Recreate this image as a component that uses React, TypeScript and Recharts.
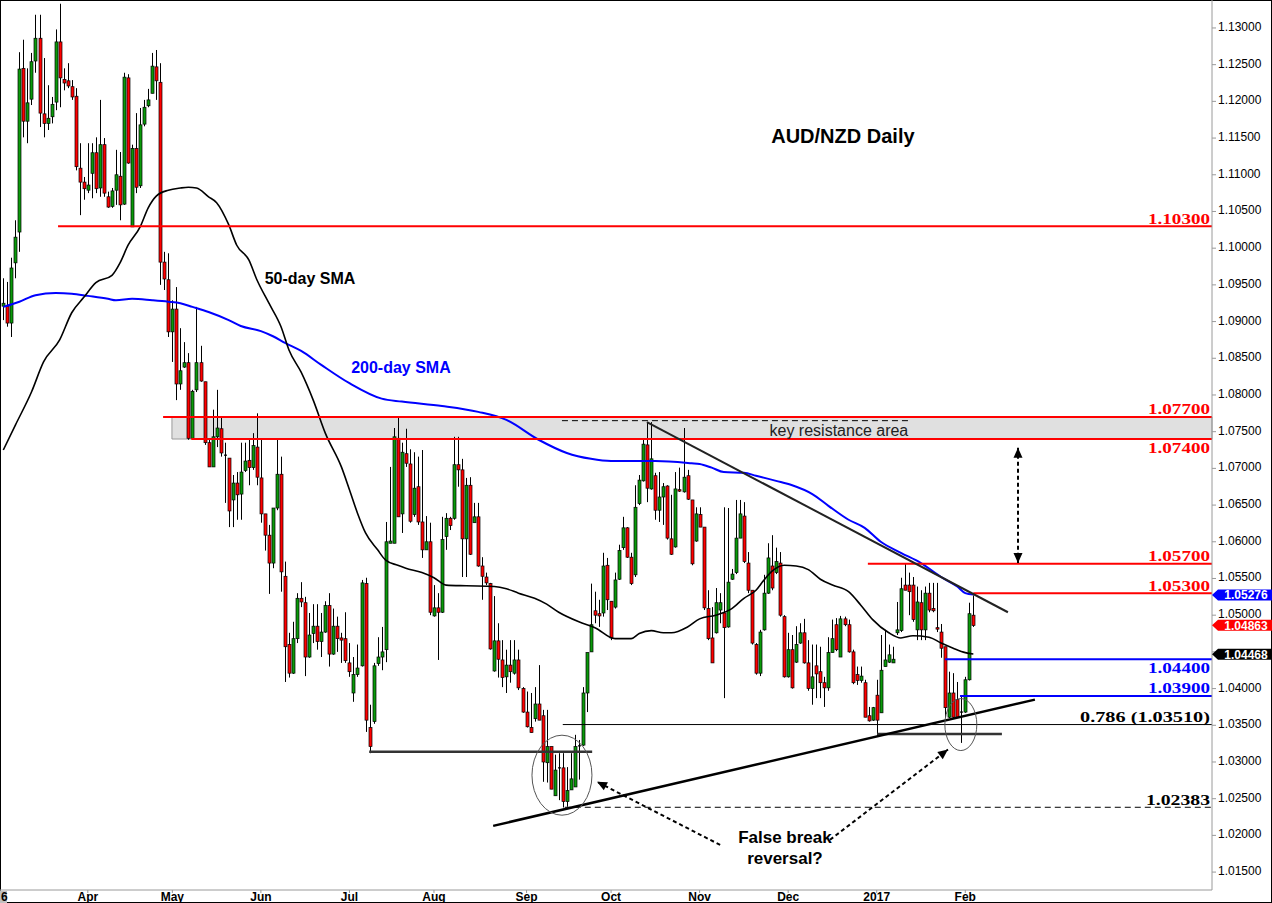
import React from "react";
import {
  ComposedChart,
  Bar,
  Line,
  XAxis,
  YAxis,
  ReferenceLine,
  ReferenceArea,
  ReferenceDot,
} from "recharts";

// AUD/NZD daily candles [open, high, low, close], early Mar 2016 -> early Feb 2017
const ohlc: [number, number, number, number][] = [
  [1.0921, 1.0959, 1.0902, 1.0925], [1.0921, 1.0954, 1.0893, 1.0898], [1.0898, 1.0987, 1.0879, 1.0973],
  [1.0980, 1.1038, 1.0959, 1.1015], [1.1022, 1.1267, 1.0995, 1.1244], [1.1245, 1.1284, 1.1151, 1.1173],
  [1.1173, 1.1245, 1.1143, 1.1198], [1.1203, 1.1266, 1.1195, 1.1254], [1.1255, 1.1318, 1.1239, 1.1286],
  [1.1286, 1.1318, 1.1165, 1.1184], [1.1183, 1.1259, 1.1151, 1.1170], [1.1170, 1.1222, 1.1161, 1.1177],
  [1.1179, 1.1206, 1.1170, 1.1196], [1.1199, 1.1298, 1.1188, 1.1281], [1.1281, 1.1333, 1.1192, 1.1232],
  [1.1230, 1.1245, 1.1215, 1.1225], [1.1228, 1.1252, 1.1218, 1.1221], [1.1220, 1.1229, 1.1202, 1.1206],
  [1.1207, 1.1218, 1.1106, 1.1111], [1.1109, 1.1143, 1.1045, 1.1090], [1.1090, 1.1097, 1.1066, 1.1081],
  [1.1079, 1.1143, 1.1075, 1.1086], [1.1102, 1.1143, 1.1068, 1.1130], [1.1130, 1.1151, 1.1075, 1.1081],
  [1.1082, 1.1202, 1.1070, 1.1141], [1.1141, 1.1150, 1.1070, 1.1075], [1.1070, 1.1077, 1.1055, 1.1056],
  [1.1057, 1.1082, 1.1055, 1.1078], [1.1079, 1.1134, 1.1059, 1.1100], [1.1098, 1.1131, 1.1038, 1.1059],
  [1.1060, 1.1239, 1.1059, 1.1233], [1.1232, 1.1237, 1.1115, 1.1116], [1.1029, 1.1141, 1.1029, 1.1136],
  [1.1136, 1.1184, 1.1075, 1.1083], [1.1085, 1.1191, 1.1082, 1.1168], [1.1169, 1.1202, 1.1166, 1.1192],
  [1.1194, 1.1217, 1.1192, 1.1202], [1.1211, 1.1266, 1.1211, 1.1248], [1.1247, 1.1270, 1.1202, 1.1228],
  [1.1226, 1.1252, 1.0950, 1.0981], [1.0981, 1.0995, 1.0943, 1.0958], [1.0957, 1.0993, 1.0879, 1.0886],
  [1.0886, 1.0929, 1.0845, 1.0917], [1.0917, 1.0947, 1.0793, 1.0815], [1.0815, 1.0891, 1.0807, 1.0833],
  [1.0838, 1.0872, 1.0837, 1.0844], [1.0844, 1.0857, 1.0739, 1.0741], [1.0741, 1.0807, 1.0741, 1.0805],
  [1.0807, 1.0920, 1.0804, 1.0844], [1.0844, 1.0867, 1.0818, 1.0819], [1.0818, 1.0818, 1.0732, 1.0735],
  [1.0735, 1.0741, 1.0702, 1.0702], [1.0702, 1.0780, 1.0702, 1.0743], [1.0743, 1.0807, 1.0729, 1.0755],
  [1.0754, 1.0770, 1.0716, 1.0721], [1.0718, 1.0735, 1.0653, 1.0717], [1.0714, 1.0714, 1.0620, 1.0642],
  [1.0657, 1.0691, 1.0620, 1.0680], [1.0680, 1.0695, 1.0630, 1.0664], [1.0665, 1.0735, 1.0630, 1.0695],
  [1.0697, 1.0735, 1.0695, 1.0710], [1.0711, 1.0739, 1.0677, 1.0701], [1.0701, 1.0748, 1.0698, 1.0731],
  [1.0729, 1.0775, 1.0677, 1.0688], [1.0687, 1.0739, 1.0626, 1.0638], [1.0638, 1.0638, 1.0588, 1.0609],
  [1.0609, 1.0623, 1.0529, 1.0571], [1.0571, 1.0646, 1.0564, 1.0646], [1.0646, 1.0739, 1.0643, 1.0692],
  [1.0692, 1.0716, 1.0532, 1.0559], [1.0553, 1.0573, 1.0409, 1.0457], [1.0460, 1.0476, 1.0415, 1.0421],
  [1.0421, 1.0491, 1.0420, 1.0468], [1.0468, 1.0530, 1.0462, 1.0523], [1.0523, 1.0545, 1.0511, 1.0518],
  [1.0517, 1.0525, 1.0417, 1.0443], [1.0443, 1.0503, 1.0442, 1.0473], [1.0475, 1.0515, 1.0462, 1.0485],
  [1.0485, 1.0515, 1.0453, 1.0464], [1.0464, 1.0503, 1.0443, 1.0477], [1.0477, 1.0519, 1.0476, 1.0513],
  [1.0513, 1.0530, 1.0430, 1.0447], [1.0447, 1.0509, 1.0446, 1.0485], [1.0485, 1.0498, 1.0450, 1.0468],
  [1.0469, 1.0476, 1.0435, 1.0466], [1.0468, 1.0504, 1.0435, 1.0438], [1.0435, 1.0462, 1.0416, 1.0423],
  [1.0394, 1.0443, 1.0382, 1.0419], [1.0419, 1.0460, 1.0416, 1.0428], [1.0431, 1.0548, 1.0430, 1.0544],
  [1.0543, 1.0551, 1.0341, 1.0357], [1.0347, 1.0378, 1.0312, 1.0321], [1.0355, 1.0435, 1.0352, 1.0431],
  [1.0434, 1.0470, 1.0431, 1.0443], [1.0443, 1.0484, 1.0425, 1.0450], [1.0453, 1.0627, 1.0436, 1.0600],
  [1.0598, 1.0702, 1.0598, 1.0601], [1.0598, 1.0755, 1.0598, 1.0743], [1.0741, 1.0771, 1.0634, 1.0634],
  [1.0638, 1.0735, 1.0612, 1.0722], [1.0720, 1.0754, 1.0702, 1.0707], [1.0706, 1.0726, 1.0626, 1.0628],
  [1.0637, 1.0722, 1.0634, 1.0673], [1.0675, 1.0716, 1.0623, 1.0627], [1.0627, 1.0725, 1.0578, 1.0589],
  [1.0589, 1.0635, 1.0589, 1.0600], [1.0600, 1.0626, 1.0500, 1.0504], [1.0499, 1.0541, 1.0498, 1.0510],
  [1.0510, 1.0530, 1.0439, 1.0504], [1.0504, 1.0634, 1.0503, 1.0603], [1.0607, 1.0639, 1.0589, 1.0632],
  [1.0632, 1.0634, 1.0616, 1.0622], [1.0632, 1.0743, 1.0630, 1.0705], [1.0705, 1.0743, 1.0675, 1.0698],
  [1.0698, 1.0713, 1.0552, 1.0604], [1.0604, 1.0687, 1.0552, 1.0677], [1.0677, 1.0688, 1.0582, 1.0583],
  [1.0626, 1.0653, 1.0626, 1.0634], [1.0634, 1.0653, 1.0566, 1.0567], [1.0567, 1.0579, 1.0521, 1.0553],
  [1.0552, 1.0558, 1.0541, 1.0544], [1.0543, 1.0544, 1.0453, 1.0454], [1.0424, 1.0526, 1.0423, 1.0465],
  [1.0465, 1.0489, 1.0415, 1.0440], [1.0439, 1.0466, 1.0402, 1.0415], [1.0416, 1.0453, 1.0394, 1.0432],
  [1.0432, 1.0466, 1.0408, 1.0423], [1.0421, 1.0466, 1.0419, 1.0439], [1.0439, 1.0453, 1.0398, 1.0401],
  [1.0400, 1.0402, 1.0367, 1.0368], [1.0368, 1.0396, 1.0347, 1.0348], [1.0347, 1.0394, 1.0340, 1.0340],
  [1.0359, 1.0402, 1.0355, 1.0379], [1.0379, 1.0432, 1.0357, 1.0357], [1.0363, 1.0371, 1.0273, 1.0300],
  [1.0299, 1.0371, 1.0272, 1.0321], [1.0321, 1.0321, 1.0263, 1.0263], [1.0254, 1.0310, 1.0254, 1.0289],
  [1.0292, 1.0312, 1.0248, 1.0291], [1.0292, 1.0312, 1.0238, 1.0246], [1.0246, 1.0293, 1.0239, 1.0261],
  [1.0262, 1.0312, 1.0262, 1.0277], [1.0266, 1.0337, 1.0266, 1.0321], [1.0321, 1.0330, 1.0276, 1.0322],
  [1.0323, 1.0402, 1.0322, 1.0394], [1.0394, 1.0449, 1.0368, 1.0449], [1.0450, 1.0543, 1.0450, 1.0487],
  [1.0506, 1.0532, 1.0489, 1.0500], [1.0502, 1.0521, 1.0484, 1.0499], [1.0503, 1.0585, 1.0498, 1.0567],
  [1.0568, 1.0578, 1.0507, 1.0521], [1.0519, 1.0519, 1.0466, 1.0469], [1.0511, 1.0558, 1.0509, 1.0548],
  [1.0549, 1.0596, 1.0548, 1.0588], [1.0592, 1.0634, 1.0589, 1.0619], [1.0619, 1.0620, 1.0578, 1.0579],
  [1.0579, 1.0585, 1.0541, 1.0543], [1.0555, 1.0677, 1.0552, 1.0647], [1.0652, 1.0691, 1.0650, 1.0684],
  [1.0683, 1.0740, 1.0682, 1.0733], [1.0732, 1.0762, 1.0654, 1.0673], [1.0672, 1.0763, 1.0671, 1.0713],
  [1.0690, 1.0694, 1.0630, 1.0643], [1.0643, 1.0695, 1.0627, 1.0661], [1.0661, 1.0680, 1.0623, 1.0675],
  [1.0676, 1.0677, 1.0603, 1.0605], [1.0604, 1.0664, 1.0582, 1.0583], [1.0593, 1.0695, 1.0592, 1.0672],
  [1.0671, 1.0701, 1.0668, 1.0669], [1.0668, 1.0755, 1.0667, 1.0688], [1.0690, 1.0698, 1.0657, 1.0658],
  [1.0657, 1.0657, 1.0568, 1.0570], [1.0601, 1.0647, 1.0600, 1.0638], [1.0637, 1.0647, 1.0620, 1.0620],
  [1.0620, 1.0620, 1.0507, 1.0510], [1.0509, 1.0534, 1.0466, 1.0468], [1.0469, 1.0511, 1.0435, 1.0435],
  [1.0476, 1.0537, 1.0475, 1.0517], [1.0507, 1.0530, 1.0489, 1.0517], [1.0503, 1.0647, 1.0387, 1.0483],
  [1.0484, 1.0646, 1.0483, 1.0545], [1.0549, 1.0563, 1.0548, 1.0556], [1.0558, 1.0657, 1.0556, 1.0605],
  [1.0605, 1.0657, 1.0605, 1.0638], [1.0635, 1.0654, 1.0571, 1.0573], [1.0571, 1.0586, 1.0530, 1.0534],
  [1.0534, 1.0534, 1.0460, 1.0462], [1.0460, 1.0462, 1.0419, 1.0421], [1.0421, 1.0480, 1.0417, 1.0477],
  [1.0480, 1.0555, 1.0479, 1.0530], [1.0530, 1.0598, 1.0529, 1.0578], [1.0567, 1.0609, 1.0534, 1.0537],
  [1.0558, 1.0592, 1.0556, 1.0573], [1.0571, 1.0586, 1.0498, 1.0500], [1.0498, 1.0500, 1.0415, 1.0416],
  [1.0416, 1.0476, 1.0415, 1.0453], [1.0453, 1.0473, 1.0400, 1.0401], [1.0436, 1.0485, 1.0435, 1.0460],
  [1.0462, 1.0489, 1.0461, 1.0476], [1.0476, 1.0495, 1.0434, 1.0435], [1.0435, 1.0466, 1.0397, 1.0400],
  [1.0400, 1.0460, 1.0378, 1.0416], [1.0431, 1.0460, 1.0387, 1.0420], [1.0423, 1.0457, 1.0387, 1.0408],
  [1.0408, 1.0416, 1.0375, 1.0401], [1.0401, 1.0470, 1.0397, 1.0449], [1.0449, 1.0494, 1.0449, 1.0468],
  [1.0487, 1.0496, 1.0451, 1.0453], [1.0443, 1.0499, 1.0443, 1.0495], [1.0495, 1.0498, 1.0485, 1.0487],
  [1.0487, 1.0494, 1.0449, 1.0450], [1.0450, 1.0453, 1.0406, 1.0408], [1.0419, 1.0430, 1.0405, 1.0411],
  [1.0411, 1.0430, 1.0408, 1.0417], [1.0408, 1.0412, 1.0361, 1.0361], [1.0363, 1.0375, 1.0355, 1.0356],
  [1.0357, 1.0375, 1.0356, 1.0374], [1.0391, 1.0412, 1.0334, 1.0357], [1.0367, 1.0473, 1.0367, 1.0425],
  [1.0430, 1.0480, 1.0430, 1.0439], [1.0436, 1.0460, 1.0435, 1.0446], [1.0435, 1.0457, 1.0435, 1.0440],
  [1.0476, 1.0518, 1.0473, 1.0480], [1.0479, 1.0551, 1.0477, 1.0536], [1.0541, 1.0570, 1.0534, 1.0534],
  [1.0541, 1.0558, 1.0500, 1.0532], [1.0541, 1.0552, 1.0491, 1.0494], [1.0480, 1.0539, 1.0466, 1.0518],
  [1.0517, 1.0534, 1.0466, 1.0480], [1.0480, 1.0539, 1.0466, 1.0530], [1.0530, 1.0544, 1.0504, 1.0507],
  [1.0509, 1.0544, 1.0504, 1.0506], [1.0483, 1.0544, 1.0477, 1.0481], [1.0477, 1.0488, 1.0442, 1.0455],
  [1.0457, 1.0457, 1.0360, 1.0374], [1.0361, 1.0423, 1.0360, 1.0394], [1.0394, 1.0421, 1.0360, 1.0361],
  [1.0385, 1.0409, 1.0361, 1.0361], [1.0368, 1.0390, 1.0326, 1.0367], [1.0368, 1.0416, 1.0367, 1.0412],
  [1.0412, 1.0517, 1.0411, 1.0502], [1.0500, 1.0527, 1.0484, 1.0486],
];

// moving averages read at [bar index, value]
const sma50Pts: [number, number][] = [
  [0, 1.0725], [3, 1.0759], [7, 1.0804], [10, 1.0845], [14, 1.0875], [17, 1.0912], [20, 1.0933],
  [23, 1.0953], [27, 1.0963], [29, 1.098], [31, 1.1004], [34, 1.1029], [36, 1.1055], [38, 1.1071],
  [41, 1.1079], [44, 1.1082], [46, 1.1083], [48, 1.1082], [51, 1.107], [53, 1.1062], [56, 1.1032],
  [58, 1.1004], [61, 1.0984], [63, 1.0957], [66, 1.0925], [69, 1.0893], [71, 1.0861], [74, 1.0831],
  [77, 1.0793], [80, 1.0748], [84, 1.0702], [86, 1.0671], [88, 1.0639], [90, 1.0612], [93, 1.0589],
  [95, 1.0575], [98, 1.0568], [100, 1.0564], [104, 1.0558], [107, 1.0551], [110, 1.0541], [115, 1.054],
  [122, 1.0539], [125, 1.0536], [128, 1.053], [132, 1.0523], [135, 1.0515], [138, 1.0504], [143, 1.0491],
  [147, 1.0483], [152, 1.0468], [156, 1.0468], [158, 1.0475], [161, 1.0479], [164, 1.0476], [166, 1.0476],
  [170, 1.0484], [173, 1.0495], [177, 1.05], [181, 1.0509], [184, 1.0523], [187, 1.0534], [189, 1.0548],
  [191, 1.056], [194, 1.0568], [197, 1.0567], [200, 1.0562], [203, 1.0549], [206, 1.0541], [210, 1.0532],
  [213, 1.0514], [216, 1.0494], [220, 1.0476], [223, 1.0469], [226, 1.0472], [230, 1.047], [233, 1.0462],
  [236, 1.0455], [239, 1.0449], [241, 1.0447],
];

const sma200Pts: [number, number][] = [
  [0, 1.092], [4, 1.0927], [8, 1.0936], [13, 1.0939], [17, 1.0938], [21, 1.0935], [26, 1.0931],
  [28, 1.0929], [32, 1.0931], [37, 1.0929], [41, 1.0927], [44, 1.0925], [47, 1.092], [51, 1.0913],
  [56, 1.0902], [59, 1.0894], [64, 1.0887], [67, 1.088], [70, 1.0871], [74, 1.086], [79, 1.0841],
  [86, 1.0816], [94, 1.0795], [99, 1.0791], [109, 1.0785], [118, 1.0777], [125, 1.0766], [133, 1.0739],
  [140, 1.0721], [146, 1.0713], [151, 1.071], [162, 1.071], [171, 1.0707], [173, 1.0706], [176, 1.0701],
  [179, 1.0695], [184, 1.0694], [187, 1.069], [192, 1.0683], [196, 1.0677], [201, 1.0665], [205, 1.0649],
  [210, 1.063], [214, 1.0619], [218, 1.06], [223, 1.0585], [228, 1.0571], [233, 1.0552], [237, 1.0539],
  [239, 1.053], [241, 1.0528],
];

const priceTicks = [
  1.015, 1.02, 1.025, 1.03, 1.035, 1.04, 1.045, 1.05, 1.055, 1.06, 1.065, 1.07,
  1.075, 1.08, 1.085, 1.09, 1.095, 1.1, 1.105, 1.11, 1.115, 1.12, 1.125, 1.13,
];
const monthTickIdx = [-0.8, 21, 42, 64, 86, 107, 130, 151, 173, 195, 217, 239];
const monthLabels = ["6", "Apr", "May", "Jun", "Jul", "Aug", "Sep", "Oct", "Nov", "Dec", "2017", "Feb"];

// horizontal levels: [price, first bar index, colour, label offset]
const levels: [number, number, string, number][] = [
  [1.103, 13.6, "#ff0000", -2.5],
  [1.077, 39.7, "#ff0000", -3],
  [1.074, 46.7, "#ff0000", 14],
  [1.057, 214.8, "#ff0000", -2.5],
  [1.053, 241, "#ff0000", -2.5],
  [1.044, 234, "#0000ff", 14],
  [1.039, 237.7, "#0000ff", -2.5],
];
const fibLevel = 1.0351;
const septLow = 1.02383;
const lastTags: [number, string][] = [
  [1.05276, "#0000ff"],
  [1.04863, "#ff0000"],
  [1.04468, "#000000"],
];

const X_MIN = -0.82;
const X_MAX = 300.3;
const GREEN = "#0a9a0a";
const RED = "#ff0000";
const SANS = "'Liberation Sans', Arial, sans-serif";
const SERIF = "'Liberation Serif', 'Times New Roman', serif";

const rows = ohlc.map(([o, h, l, c], i) => ({ i, o, h, l, c, range: [l, h] }));
const sma50Data = sma50Pts.map(([i, v]) => ({ i, v }));
const sma200Data = sma200Pts.map(([i, v]) => ({ i, v }));

function Candle(props: any) {
  const { x, y, width, height, payload } = props;
  if (!payload || y == null || height == null) return null;
  const { o, h, l, c } = payload;
  const k = h - l > 0 ? height / (h - l) : 0;
  const yOf = (v: number) => y + (h - v) * k;
  const px = Math.floor(x + width / 2) + 0.5;
  const top = yOf(Math.max(o, c));
  const bot = yOf(Math.min(o, c));
  return (
    <g>
      <line x1={px} x2={px} y1={y} y2={y + height} stroke="#000" strokeWidth={1} />
      {bot - top < 1.2 ? (
        <line x1={px - 1.5} x2={px + 1.5} y1={top} y2={top} stroke="#000" strokeWidth={1.2} />
      ) : (
        <rect x={px - 1.5} y={top} width={3} height={bot - top} fill={c >= o ? GREEN : RED} stroke="#000" strokeWidth={0.7} />
      )}
    </g>
  );
}

function arrowShape(both: boolean) {
  return (p: any) => {
    const { x1, y1, x2, y2 } = p;
    const head = (tx: number, ty: number, fx: number, fy: number) => {
      const a = Math.atan2(ty - fy, tx - fx);
      const len = 10;
      const w = 4.5;
      const bx = tx - len * Math.cos(a);
      const by = ty - len * Math.sin(a);
      const pts = [
        `${tx},${ty}`,
        `${bx + w * Math.sin(a)},${by - w * Math.cos(a)}`,
        `${bx - w * Math.sin(a)},${by + w * Math.cos(a)}`,
      ].join(" ");
      return <polygon points={pts} fill="#000" />;
    };
    return (
      <g>
        <line x1={x1} y1={y1} x2={x2} y2={y2} stroke="#000" strokeWidth={2} strokeDasharray="4 3" />
        {head(x2, y2, x1, y1)}
        {both ? head(x1, y1, x2, y2) : null}
      </g>
    );
  };
}

function textAt(text: string, opts: { size: number; weight?: string; fill?: string; family?: string }) {
  return (p: any) => (
    <text
      x={p.cx}
      y={p.cy}
      textAnchor="middle"
      dominantBaseline="central"
      fontSize={opts.size}
      fontWeight={opts.weight ?? "bold"}
      fill={opts.fill ?? "#000"}
      fontFamily={opts.family ?? SANS}
    >
      {text}
    </text>
  );
}

function levelLabel(text: string, color: string, dy: number, width: number) {
  return (p: any) => (
    <text
      x={p.cx - 2 - width}
      y={p.cy + dy}
      fontSize={15}
      fontWeight="bold"
      fill={color}
      fontFamily={SERIF}
      textLength={width}
      lengthAdjust="spacingAndGlyphs"
    >
      {text}
    </text>
  );
}

function priceTag(text: string, color: string) {
  return (p: any) => {
    const { cx, cy } = p;
    const hh = 5.5;
    const pts = `${cx},${cy} ${cx + 6},${cy - hh} ${cx + 60},${cy - hh} ${cx + 60},${cy + hh} ${cx + 6},${cy + hh}`;
    return (
      <g>
        <polygon points={pts} fill={color} />
        <text x={cx + 34} y={cy + 0.5} textAnchor="middle" dominantBaseline="central" fontSize={12} fontWeight="bold" fill="#fff" fontFamily={SANS}>
          {text}
        </text>
      </g>
    );
  };
}

// axis price labels; the one sitting under the last-value tag is covered in the original
function PriceTick(props: any) {
  const { x, y, payload } = props;
  const v = payload.value as number;
  if (lastTags.some(([p]) => Math.abs(p - v) < 0.001)) return null;
  return (
    <text x={x} y={y - 1} textAnchor="start" dominantBaseline="central" fontSize={12} fill="#000" fontFamily={SANS}>
      {v.toFixed(5)}
    </text>
  );
}

function MonthTick(props: any) {
  const { x, payload } = props;
  const idx = monthTickIdx.indexOf(payload.value);
  const label = monthLabels[idx] ?? "";
  if (idx === 0) {
    return (
      <g>
        <rect x={0} y={891} width={7} height={12} fill="#c0c0c0" />
        <text x={1} y={901} fontSize={12} fontWeight="bold" fill="#000" fontFamily={SANS}>
          {label}
        </text>
      </g>
    );
  }
  return (
    <text x={x} y={901} textAnchor="middle" fontSize={12} fontWeight="bold" fill="#000" fontFamily="'Liberation Sans Narrow', 'Liberation Sans', Arial, sans-serif">
      {label}
    </text>
  );
}

export default function App() {
  return (
    <div
      style={{
        position: "absolute",
        left: 0,
        top: 0,
        width: 1272,
        height: 903,
        background: "#fff",
        outline: "1px solid #000",
        outlineOffset: -1,
        fontFamily: SANS,
      }}
    >
      <ComposedChart width={1272} height={903} data={rows} margin={{ top: 0, right: 0, bottom: 0, left: 0 }}>
        <XAxis
          dataKey="i"
          type="number"
          domain={[X_MIN, X_MAX]}
          allowDataOverflow
          ticks={monthTickIdx}
          tick={<MonthTick />}
          height={13}
          tickSize={3}
          interval={0}
          axisLine={{ stroke: "#9a9a9a" }}
          tickLine={{ stroke: "#9a9a9a" }}
        />
        <YAxis
          orientation="right"
          type="number"
          domain={[1.01256, 1.13381]}
          allowDataOverflow
          ticks={priceTicks}
          interval={0}
          width={60}
          tickSize={4}
          tickMargin={2}
          tick={<PriceTick />}
          axisLine={{ stroke: "#9a9a9a" }}
          tickLine={{ stroke: "#9a9a9a" }}
        />

        <ReferenceArea x1={41.9} x2={X_MAX} y1={1.074} y2={1.077} fill="#e0e0e0" fillOpacity={1} stroke="#9a9a9a" strokeWidth={1} />

        <Bar dataKey="range" barSize={3} shape={<Candle />} isAnimationActive={false} />

        <Line data={sma200Data} dataKey="v" type="monotone" stroke="#0000ff" strokeWidth={2} dot={false} activeDot={false} isAnimationActive={false} />
        <Line data={sma50Data} dataKey="v" type="monotone" stroke="#000" strokeWidth={1.6} dot={false} activeDot={false} isAnimationActive={false} />

        {levels.map(([p, start, color]) => (
          <ReferenceLine key={`lv${p}`} segment={[{ x: start, y: p }, { x: X_MAX, y: p }]} stroke={color} strokeWidth={2} />
        ))}
        <ReferenceLine segment={[{ x: 139, y: fibLevel }, { x: X_MAX, y: fibLevel }]} stroke="#000" strokeWidth={1} />
        <ReferenceLine segment={[{ x: 139.5, y: septLow }, { x: X_MAX, y: septLow }]} stroke="#000" strokeWidth={1} strokeDasharray="6 4" />
        <ReferenceLine segment={[{ x: 138.8, y: 1.0765 }, { x: 225.3, y: 1.0765 }]} stroke="#000" strokeWidth={1} strokeDasharray="6 4" />
        <ReferenceLine segment={[{ x: 90.9, y: 1.0314 }, { x: 146.3, y: 1.0314 }]} stroke="#333" strokeWidth={2.5} />
        <ReferenceLine segment={[{ x: 217.1, y: 1.0338 }, { x: 248.1, y: 1.0338 }]} stroke="#333" strokeWidth={2.5} />
        <ReferenceLine segment={[{ x: 159.9, y: 1.0763 }, { x: 249.6, y: 1.0504 }]} stroke="#222" strokeWidth={2} />
        <ReferenceLine segment={[{ x: 121.7, y: 1.0213 }, { x: 256.3, y: 1.0385 }]} stroke="#000" strokeWidth={2.5} />

        <ReferenceLine segment={[{ x: 252.1, y: 1.0728 }, { x: 252.1, y: 1.0571 }]} shape={arrowShape(true)} />
        <ReferenceLine segment={[{ x: 178.1, y: 1.0187 }, { x: 147.5, y: 1.0273 }]} shape={arrowShape(false)} />
        <ReferenceLine segment={[{ x: 205.4, y: 1.0194 }, { x: 234.7, y: 1.0317 }]} shape={arrowShape(false)} />

        <ReferenceDot x={138.8} y={1.0282} ifOverflow="visible" shape={(p: any) => <ellipse cx={p.cx} cy={p.cy} rx={30} ry={40} fill="none" stroke="#555" strokeWidth={1} />} />
        <ReferenceDot x={237.9} y={1.0351} ifOverflow="visible" shape={(p: any) => <ellipse cx={p.cx} cy={p.cy} rx={16} ry={26} fill="none" stroke="#555" strokeWidth={1} />} />

        {levels.map(([p, , color, dy]) => (
          <ReferenceDot key={`lb${p}`} x={X_MAX} y={p} ifOverflow="visible" shape={levelLabel(p.toFixed(5), color, dy, 62)} />
        ))}
        <ReferenceDot x={X_MAX} y={fibLevel} ifOverflow="visible" shape={levelLabel("0.786 (1.03510)", "#000", -2.5, 130)} />
        <ReferenceDot x={X_MAX} y={septLow} ifOverflow="visible" shape={levelLabel(septLow.toFixed(5), "#000", -2.5, 64)} />

        <ReferenceDot x={208.6} y={1.1153} ifOverflow="visible" shape={textAt("AUD/NZD Daily", { size: 20 })} />
        <ReferenceDot x={76.2} y={1.0959} ifOverflow="visible" shape={textAt("50-day SMA", { size: 16 })} />
        <ReferenceDot x={98.8} y={1.0837} ifOverflow="visible" shape={textAt("200-day SMA", { size: 16, fill: "#0000ff" })} />
        <ReferenceDot x={207.6} y={1.0752} ifOverflow="visible" shape={textAt("key resistance area", { size: 16, weight: "normal", fill: "#222" })} />
        <ReferenceDot x={194.2} y={1.0197} ifOverflow="visible" shape={textAt("False break", { size: 17 })} />
        <ReferenceDot x={194.2} y={1.0169} ifOverflow="visible" shape={textAt("reversal?", { size: 17 })} />

        {lastTags.map(([p, color]) => (
          <ReferenceDot key={`tag${p}`} x={X_MAX} y={p} ifOverflow="visible" shape={priceTag(p.toFixed(5), color)} />
        ))}
      </ComposedChart>
    </div>
  );
}
